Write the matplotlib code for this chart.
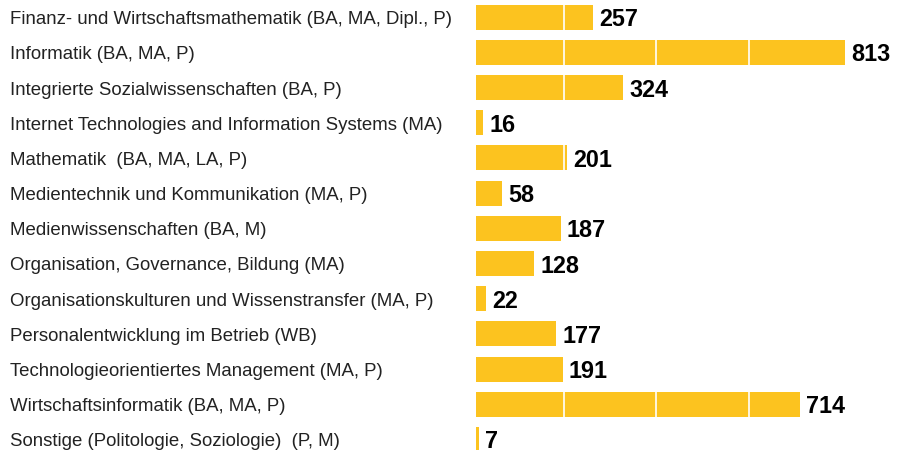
import matplotlib.pyplot as plt
from matplotlib.transforms import blended_transform_factory, offset_copy

plt.rcParams['font.family'] = ['Liberation Sans', 'DejaVu Sans']

courses = [
    "Finanz- und Wirtschaftsmathematik (BA, MA, Dipl., P)",
    "Informatik (BA, MA, P)",
    "Integrierte Sozialwissenschaften (BA, P)",
    "Internet Technologies and Information Systems (MA)",
    "Mathematik  (BA, MA, LA, P)",
    "Medientechnik und Kommunikation (MA, P)",
    "Medienwissenschaften (BA, M)",
    "Organisation, Governance, Bildung (MA)",
    "Organisationskulturen und Wissenstransfer (MA, P)",
    "Personalentwicklung im Betrieb (WB)",
    "Technologieorientiertes Management (MA, P)",
    "Wirtschaftsinformatik (BA, MA, P)",
    "Sonstige (Politologie, Soziologie)  (P, M)",
]
counts = [257, 813, 324, 16, 201, 58, 187, 128, 22, 177, 191, 714, 7]
grid_vals = [193, 396, 600]

W, H = 899, 450
fig = plt.figure(figsize=(W / 100, H / 100), dpi=100)
ax = fig.add_axes([476 / W, 0, 409 / W, 1])

ypos = list(range(len(courses)))
ax.barh(ypos, counts, height=0.71, color='#FCC31F', zorder=1)
for g in grid_vals:
    ax.axvline(g, color='white', lw=1.2, zorder=2)

ax.set_xlim(0, 900)
ax.set_ylim(12.3, -0.489)
ax.axis('off')

trans = blended_transform_factory(fig.transFigure, ax.transData)
for y, name in zip(ypos, courses):
    ax.text(10 / W, y + 0.07, name, transform=trans, ha='left', va='center',
            fontsize=13.4, color='#222222')

for y, c in zip(ypos, counts):
    t = offset_copy(ax.transData, fig=fig, x=6, y=-9, units='dots')
    ax.text(c, y, str(c), transform=t, ha='left', va='baseline',
            fontsize=16.8, fontweight='bold', color='black')

fig.savefig('out.png', dpi=100)
